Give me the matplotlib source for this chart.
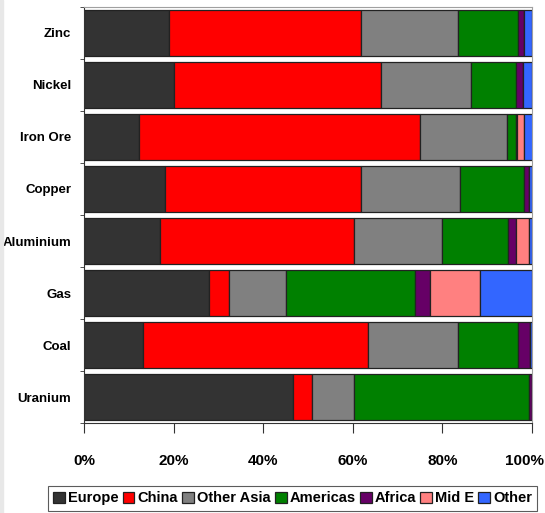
import numpy as np
import matplotlib.pyplot as plt
from matplotlib.transforms import ScaledTranslation

# Data (share of world demand, %)
commodities = ['Zinc', 'Nickel', 'Iron Ore', 'Copper', 'Aluminium', 'Gas', 'Coal', 'Uranium']
regions = ['Europe', 'China', 'Other Asia', 'Americas', 'Africa', 'Mid E', 'Other']
europe = [19.1, 20.0, 12.2, 18.0, 16.9, 28.0, 13.2, 46.6]
china = [42.8, 46.4, 62.8, 43.9, 43.3, 4.3, 50.3, 4.3]
other_asia = [21.6, 20.0, 19.5, 22.0, 19.7, 12.7, 20.1, 9.4]
americas = [13.4, 10.1, 2.0, 14.3, 14.8, 29.0, 13.4, 39.1]
africa = [1.4, 1.4, 0.2, 1.2, 1.7, 3.3, 2.6, 0.6]
mid_e = [0.0, 0.0, 1.5, 0.0, 2.9, 11.2, 0.0, 0.0]
other = [1.7, 2.1, 2.0, 0.6, 0.7, 11.5, 0.4, 0.0]
series = [europe, china, other_asia, americas, africa, mid_e, other]
colors = ['#333333', '#ff0000', '#808080', '#008000', '#660066', '#ff8080', '#3366ff']

plt.rcParams['font.family'] = ['Liberation Sans', 'DejaVu Sans']
plt.rcParams['font.weight'] = 'bold'

fig = plt.figure(figsize=(5.45, 5.13), dpi=100)
fig.patches.append(plt.Rectangle((0, 0), 0.006, 1, transform=fig.transFigure,
                                 color='#e8e8e8', zorder=0))
ax = fig.add_axes([0.154, 0.1754, 0.822, 0.811])

y = np.arange(len(commodities))[::-1]
left = np.zeros(len(commodities))
for vals, col, name in zip(series, colors, regions):
    vals = np.array(vals)
    ax.barh(y, vals, left=left, height=0.9, color=col, edgecolor='#222222',
            linewidth=0.9, label=name)
    left += vals

ax.set_xlim(0, 100)
ax.set_ylim(-0.5, len(commodities) - 0.5)
ax.set_xticks(np.arange(0, 101, 20))
ax.set_xticklabels([f'{v}%' for v in range(0, 101, 20)], fontsize=11)
ax.tick_params(axis='x', length=7, direction='out', pad=15, color='#333333')
# nudge the last label so it stays inside the figure
last = ax.get_xticklabels()[-1]
last.set_transform(last.get_transform() + ScaledTranslation(-0.07, 0, fig.dpi_scale_trans))
ax.set_yticks(y)
ax.set_yticklabels(commodities, fontsize=9.5)
ax.tick_params(axis='y', which='major', length=0, pad=9)
ax.set_yticks(np.arange(-0.5, len(commodities), 1), minor=True)
ax.tick_params(axis='y', which='minor', length=3, direction='out', color='#333333')

for s in ['top', 'right']:
    ax.spines[s].set_color('#a0a0a0')
for s in ['left', 'bottom']:
    ax.spines[s].set_color('#333333')

leg = fig.legend(loc='upper center', bbox_to_anchor=(0.537, 0.052), ncol=7,
                 fontsize=10.5, frameon=True, fancybox=False, edgecolor='#333333',
                 handlelength=0.8, handleheight=0.8, handletextpad=0.2,
                 columnspacing=0.3, borderpad=0.35, borderaxespad=0)
leg.get_frame().set_linewidth(0.8)

fig.savefig('out.png', dpi=100)
